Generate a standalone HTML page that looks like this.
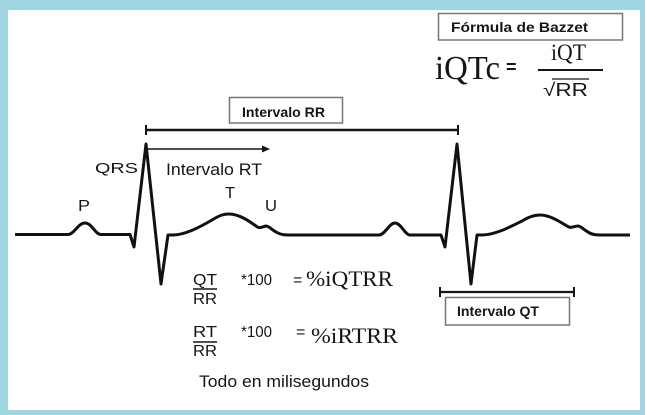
<!DOCTYPE html>
<html><head><meta charset="utf-8"><style>
html,body{margin:0;padding:0;}
body{width:645px;height:415px;overflow:hidden;background:#9fd6e2;}
svg{display:block;}
text{font-family:"Liberation Sans",Arial,sans-serif;fill:#151515;}
.serif{font-family:"Liberation Serif","Times New Roman",serif;}
.b{font-weight:bold;}
</style></head><body>
<svg width="645" height="415" viewBox="0 0 645 415" xmlns="http://www.w3.org/2000/svg">
<rect x="0" y="0" width="645" height="415" fill="#9fd6e2"/>
<rect x="8" y="10" width="632" height="400" fill="#ffffff"/>

<!-- Bazzet -->
<rect x="438.5" y="13.5" width="184" height="26.5" fill="none" stroke="#777" stroke-width="1.5"/>
<text x="451" y="32" font-size="14" class="b" textLength="137" lengthAdjust="spacingAndGlyphs">Fórmula de Bazzet</text>
<text x="435" y="79" font-size="34" class="serif" textLength="65" lengthAdjust="spacingAndGlyphs">iQTc</text>
<text x="506" y="73" font-size="18" class="b">=</text>
<text x="551" y="60" font-size="23" class="serif" textLength="35" lengthAdjust="spacingAndGlyphs">iQT</text>
<line x1="538" y1="70" x2="603" y2="70" stroke="#151515" stroke-width="2"/>
<text x="543" y="96" font-size="18" textLength="45" lengthAdjust="spacingAndGlyphs">√RR</text>
<line x1="552" y1="79" x2="589" y2="79" stroke="#151515" stroke-width="1.2"/>

<!-- Intervalo RR -->
<rect x="229.5" y="97.5" width="113" height="25.5" fill="none" stroke="#777" stroke-width="1.5"/>
<text x="242" y="117" font-size="14" class="b" textLength="83" lengthAdjust="spacingAndGlyphs">Intervalo RR</text>
<line x1="146" y1="130" x2="458" y2="130" stroke="#151515" stroke-width="2.5"/>
<line x1="146" y1="125" x2="146" y2="135" stroke="#151515" stroke-width="2"/>
<line x1="458" y1="125" x2="458" y2="135" stroke="#151515" stroke-width="2"/>

<!-- RT arrow -->
<line x1="146" y1="149" x2="264" y2="149" stroke="#151515" stroke-width="1.6"/>
<polygon points="262,145.5 270,149 262,152.5" fill="#151515"/>
<text x="166" y="175" font-size="17" textLength="96" lengthAdjust="spacingAndGlyphs">Intervalo RT</text>

<!-- labels -->
<text x="95" y="173" font-size="15" textLength="43" lengthAdjust="spacingAndGlyphs">QRS</text>
<text x="78" y="211" font-size="16" textLength="12" lengthAdjust="spacingAndGlyphs">P</text>
<text x="225" y="198" font-size="16" textLength="10" lengthAdjust="spacingAndGlyphs">T</text>
<text x="265" y="211" font-size="16" textLength="12" lengthAdjust="spacingAndGlyphs">U</text>

<!-- ECG -->
<path d="M15,234.5 L68,234.5 C74,234.5 78,223 85,223 C92,223 95,234.5 101,234.5 L130,234.5 L134,247 L146,144 L161,284 L168,235 L173,235 C185,235 200,227 212,220 C220,215 224,214 229,214 C239,214 249,221 256,226 C259,229 262,227 266,226 C269,226 272,230 276,232 C281,235 285,235 290,235 L379,235 C385,235 389,223 395,223 C401,223 405,235 410,235 L441,235 L445,247 L457,144 L471,284 L477,235 L482,235 C495,235 510,227 522,221 C530,216 535,215 540,215 C550,215 560,222 567,226 C571,229 574,226 578,226 C581,226 584,230 588,232 C592,235 597,235 602,235 L630,235" fill="none" stroke="#111" stroke-width="3" stroke-linejoin="round" stroke-linecap="butt"/>

<!-- formulas -->
<text x="193" y="285" font-size="16" textLength="24" lengthAdjust="spacingAndGlyphs">QT</text>
<line x1="193" y1="289" x2="217" y2="289" stroke="#151515" stroke-width="1.5"/>
<text x="193" y="304" font-size="16" textLength="24" lengthAdjust="spacingAndGlyphs">RR</text>
<text x="241" y="285" font-size="16" textLength="31" lengthAdjust="spacingAndGlyphs">*100</text>
<text x="293" y="285" font-size="16">=</text>
<text x="306" y="286" font-size="22" class="serif" textLength="87" lengthAdjust="spacingAndGlyphs">%iQTRR</text>

<text x="193" y="337" font-size="16" textLength="24" lengthAdjust="spacingAndGlyphs">RT</text>
<line x1="193" y1="342" x2="217" y2="342" stroke="#151515" stroke-width="1.5"/>
<text x="193" y="356" font-size="16" textLength="24" lengthAdjust="spacingAndGlyphs">RR</text>
<text x="241" y="337" font-size="16" textLength="31" lengthAdjust="spacingAndGlyphs">*100</text>
<text x="296" y="337" font-size="16">=</text>
<text x="311" y="343" font-size="22" class="serif" textLength="87" lengthAdjust="spacingAndGlyphs">%iRTRR</text>

<text x="199" y="387" font-size="17" textLength="170" lengthAdjust="spacingAndGlyphs">Todo en milisegundos</text>

<!-- Intervalo QT -->
<line x1="440" y1="292" x2="574" y2="292" stroke="#151515" stroke-width="2.2"/>
<line x1="440" y1="287" x2="440" y2="297" stroke="#151515" stroke-width="2"/>
<line x1="574" y1="287" x2="574" y2="297" stroke="#151515" stroke-width="2"/>
<rect x="445.5" y="297.5" width="124" height="27.5" fill="none" stroke="#777" stroke-width="1.5"/>
<text x="457" y="316" font-size="14" class="b" textLength="82" lengthAdjust="spacingAndGlyphs">Intervalo QT</text>
</svg>
</body></html>
